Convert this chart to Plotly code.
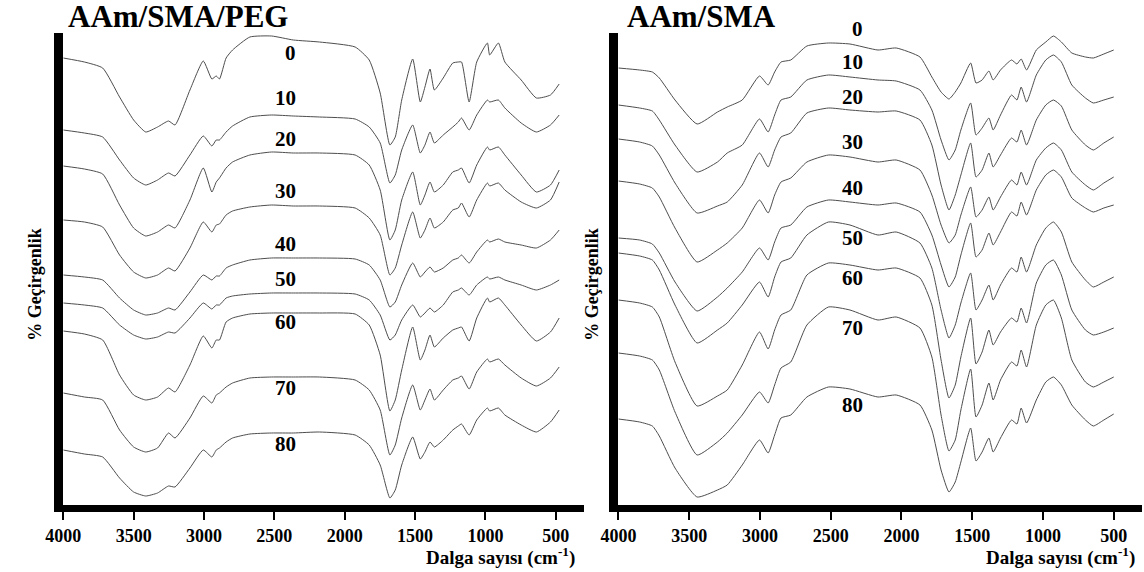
import plotly.graph_objects as go

# ---------------- data (transmittance, arbitrary offset units) ----------------
wn_peg = [4000, 3850, 3720, 3600, 3500, 3414, 3330, 3252, 3206, 3100, 3005, 2944, 2913, 2890,
          2843, 2797, 2674, 2520, 2365, 2180, 1926, 1826, 1748, 1679, 1641, 1595, 1517, 1463,
          1430, 1394, 1363, 1300, 1232, 1193, 1170, 1116, 1062, 986, 970, 908, 862, 746, 638,
          538, 476]
peg_0 = [462, 458, 452, 423, 400, 388, 393, 399, 395, 430, 459, 441, 444, 441, 462, 470, 483, 484,
         480, 478, 473, 460, 427, 375, 383, 420, 461, 418, 433, 451, 430, 442, 457, 458, 458, 418,
         458, 477, 465, 477, 458, 440, 422, 425, 436]
peg_10 = [390, 387, 383, 360, 342, 335, 340, 347, 344, 365, 384, 374, 380, 380, 388, 394, 403, 405,
          404, 403, 401, 393, 377, 337, 345, 370, 395, 367, 375, 388, 377, 385, 393, 398, 402, 390,
          405, 420, 418, 420, 412, 397, 388, 395, 405]
peg_20 = [354, 351, 346, 315, 292, 284, 288, 295, 292, 320, 352, 328, 338, 342, 352, 358, 365, 368,
          367, 367, 365, 355, 330, 280, 290, 320, 348, 315, 325, 338, 328, 335, 348, 350, 352, 337,
          355, 373, 370, 373, 365, 345, 328, 335, 350]
peg_30 = [300, 298, 293, 265, 248, 242, 245, 252, 249, 272, 298, 288, 295, 296, 305, 309, 313, 315,
          314, 314, 312, 302, 285, 245, 252, 275, 308, 282, 290, 302, 292, 298, 310, 312, 317, 303,
          320, 337, 334, 337, 330, 318, 312, 320, 338]
peg_40 = [245, 243, 240, 222, 210, 205, 207, 212, 210, 228, 245, 240, 244, 244, 252, 255, 260, 262,
          262, 262, 261, 255, 240, 213, 218, 235, 257, 243, 248, 253, 248, 252, 260, 262, 265, 257,
          268, 280, 278, 281, 278, 275, 272, 280, 290]
peg_50 = [217, 215, 212, 195, 185, 181, 183, 188, 187, 202, 217, 211, 215, 215, 222, 224, 226, 227,
          227, 227, 226, 220, 205, 180, 185, 200, 215, 203, 207, 212, 208, 215, 228, 230, 232, 225,
          235, 243, 241, 243, 240, 235, 230, 235, 240]
peg_60 = [189, 186, 180, 145, 125, 120, 123, 132, 128, 155, 184, 172, 180, 180, 198, 202, 206, 207,
          207, 207, 206, 195, 165, 109, 120, 150, 193, 160, 170, 185, 173, 182, 190, 192, 193, 179,
          202, 222, 218, 222, 215, 195, 179, 188, 202]
peg_70 = [127, 123, 120, 90, 73, 68, 72, 87, 82, 102, 124, 117, 125, 127, 133, 137, 142, 143,
          143, 143, 140, 130, 110, 65, 75, 102, 135, 110, 120, 131, 120, 130, 140, 142, 144, 131,
          148, 161, 158, 161, 155, 142, 134, 142, 153]
peg_80 = [70, 66, 63, 42, 28, 24, 27, 34, 33, 52, 70, 63, 70, 72, 78, 82, 86, 87,
          87, 88, 85, 75, 55, 22, 30, 55, 83, 61, 68, 78, 73, 80, 90, 94, 96, 85,
          100, 112, 109, 112, 105, 95, 88, 98, 110]

wn_sma = [4000, 3850, 3760, 3711, 3600, 3444, 3300, 3231, 3125, 3003, 2942, 2896, 2851, 2782,
          2668, 2516, 2364, 2166, 2037, 1869, 1785, 1720, 1664, 1620, 1580, 1511, 1473, 1430,
          1382, 1352, 1300, 1222, 1184, 1154, 1116, 1047, 980, 926, 870, 796, 700, 644, 570, 500]
sma_0 = [452, 450, 448, 442, 420, 396, 408, 413, 420, 444, 435, 448, 458, 460, 474, 477, 476, 470,
         472, 463, 443, 428, 421, 428, 437, 457, 437, 440, 449, 440, 450, 460, 456, 461, 450, 470,
         478, 484, 478, 467, 463, 462, 466, 470]
sma_10 = [415, 412, 409, 400, 375, 348, 358, 367, 375, 401, 388, 405, 420, 423, 440, 445, 443, 440,
          439, 430, 410, 380, 360, 370, 390, 417, 385, 392, 402, 390, 405, 425, 420, 433, 418, 445,
          460, 465, 458, 435, 422, 417, 420, 423]
sma_20 = [381, 378, 374, 365, 337, 307, 314, 318, 335, 367, 353, 370, 383, 387, 407, 412, 410, 408,
          409, 400, 375, 335, 310, 325, 345, 377, 343, 350, 367, 353, 365, 382, 378, 390, 375, 400,
          415, 420, 414, 390, 375, 370, 377, 383]
sma_30 = [339, 336, 332, 323, 292, 258, 270, 277, 292, 320, 307, 325, 338, 342, 358, 365, 363, 358,
          360, 350, 325, 295, 277, 285, 305, 333, 303, 310, 323, 310, 323, 340, 335, 348, 335, 360,
          372, 377, 370, 348, 335, 330, 337, 343]
sma_40 = [282, 280, 276, 267, 238, 209, 223, 232, 248, 272, 260, 278, 292, 295, 313, 320, 318, 315,
          317, 308, 285, 255, 233, 243, 265, 297, 263, 270, 287, 275, 288, 308, 304, 318, 305, 330,
          345, 350, 343, 322, 312, 308, 312, 315]
sma_50 = [267, 264, 260, 250, 215, 177, 190, 197, 215, 238, 223, 243, 258, 262, 285, 298, 295, 285,
          288, 277, 252, 210, 182, 195, 217, 247, 210, 220, 235, 220, 235, 252, 248, 263, 248, 275,
          292, 298, 288, 258, 240, 233, 238, 243]
sma_60 = [220, 217, 213, 203, 158, 114, 124, 130, 155, 188, 171, 190, 205, 210, 245, 257, 255, 250,
          252, 242, 215, 160, 122, 135, 163, 202, 156, 168, 190, 175, 188, 202, 198, 212, 197, 237,
          255, 260, 245, 210, 190, 185, 188, 192]
sma_70 = [167, 164, 160, 150, 108, 65, 78, 87, 105, 128, 117, 135, 152, 158, 195, 213, 210, 200,
          203, 192, 163, 105, 69, 80, 110, 151, 103, 115, 137, 120, 140, 158, 154, 170, 153, 195,
          215, 220, 202, 160, 138, 133, 138, 143]
sma_80 = [101, 98, 94, 84, 52, 23, 30, 35, 55, 80, 67, 85, 102, 105, 123, 133, 131, 123,
          125, 115, 90, 50, 28, 38, 58, 92, 59, 68, 82, 68, 82, 100, 96, 112, 97, 120,
          138, 143, 135, 115, 100, 94, 100, 106]

series_labels = ["0", "10", "20", "30", "40", "50", "60", "70", "80"]
peg_series = [peg_0, peg_10, peg_20, peg_30, peg_40, peg_50, peg_60, peg_70, peg_80]
sma_series = [sma_0, sma_10, sma_20, sma_30, sma_40, sma_50, sma_60, sma_70, sma_80]
tick_vals = [4000, 3500, 3000, 2500, 2000, 1500, 1000, 500]
panel_titles = ["AAm/SMA/PEG", "AAm/SMA"]

# ---------------- figure ----------------
W, H = 1144, 572
FONT = "'Liberation Serif', 'Times New Roman', Times, serif"
LINE_COLOR = "#4d4d4d"

fig = go.Figure()
for name, ys in zip(series_labels, peg_series):
    fig.add_trace(go.Scatter(x=wn_peg, y=ys, mode="lines", name=name, xaxis="x", yaxis="y",
                             line=dict(color=LINE_COLOR, width=1, shape="spline", smoothing=0.5),
                             showlegend=False, hoverinfo="skip"))
for name, ys in zip(series_labels, sma_series):
    fig.add_trace(go.Scatter(x=wn_sma, y=ys, mode="lines", name=name, xaxis="x2", yaxis="y2",
                             line=dict(color=LINE_COLOR, width=1, shape="spline", smoothing=0.5),
                             showlegend=False, hoverinfo="skip"))


def px(x):
    return x / W


def py(y):
    return 1 - y / H


y_dom = [py(505), py(33)]
xa = dict(range=[4000, 300], showgrid=False, zeroline=False, showline=True, linecolor="black",
          linewidth=7, ticks="outside", ticklen=8, tickwidth=2, tickcolor="black",
          tickvals=tick_vals, ticktext=["<b>%d</b>" % v for v in tick_vals],
          tickfont=dict(family=FONT, size=18, color="black"))
ya = dict(range=[15, 487], showgrid=False, zeroline=False, showline=True, linecolor="black",
          linewidth=9, showticklabels=False, ticks="")

fig.update_layout(
    width=W, height=H, margin=dict(l=0, r=0, t=0, b=0),
    paper_bgcolor="white", plot_bgcolor="white", showlegend=False,
    font=dict(family=FONT, color="black"),
    xaxis=dict(domain=[px(46), px(575)], anchor="y", **xa),
    yaxis=dict(domain=y_dom, anchor="x", **ya),
    xaxis2=dict(domain=[px(610), px(1142)], anchor="y2", **xa),
    yaxis2=dict(domain=y_dom, anchor="x2", **ya),
)

ann = []
# panel titles
ann.append(dict(x=px(49), y=py(17), xref="paper", yref="paper", text="<b>%s</b>" % panel_titles[0],
                showarrow=False, xanchor="left", yanchor="middle",
                font=dict(family=FONT, size=31, color="black")))
ann.append(dict(x=px(617), y=py(17), xref="paper", yref="paper", text="<b>%s</b>" % panel_titles[1],
                showarrow=False, xanchor="left", yanchor="middle",
                font=dict(family=FONT, size=31, color="black")))
# y titles
for xp in (17, 583):
    ann.append(dict(x=px(xp), y=py(285), xref="paper", yref="paper", text="<b>% Geçirgenlik</b>",
                    showarrow=False, textangle=-90, xanchor="center", yanchor="middle",
                    font=dict(family=FONT, size=18, color="black")))
# x titles
for xr in (568, 1137):
    ann.append(dict(x=px(xr), y=py(556), xref="paper", yref="paper",
                    text="<b>Dalga sayısı (cm<sup>-1</sup>)</b>",
                    showarrow=False, xanchor="right", yanchor="middle",
                    font=dict(family=FONT, size=19, color="black")))
# curve labels
peg_label_pos = [(277, 53), (272, 98), (272, 139), (272, 191), (272, 244), (272, 279), (272, 322), (272, 388), (272, 444)]
sma_label_pos = [(853, 29), (848, 62), (848, 97), (848, 142), (848, 188), (848, 238), (848, 278), (848, 328), (848, 405)]
for lab, (lx, ly) in zip(series_labels, peg_label_pos):
    ann.append(dict(x=px(lx), y=py(ly), xref="paper", yref="paper", text="<b>%s</b>" % lab,
                    showarrow=False, xanchor="center", yanchor="middle",
                    font=dict(family=FONT, size=21, color="black")))
for lab, (lx, ly) in zip(series_labels, sma_label_pos):
    ann.append(dict(x=px(lx), y=py(ly), xref="paper", yref="paper", text="<b>%s</b>" % lab,
                    showarrow=False, xanchor="center", yanchor="middle",
                    font=dict(family=FONT, size=21, color="black")))
fig.update_layout(annotations=ann)

fig.write_html("out.html", config={"displayModeBar": False},
               post_script="document.body.style.margin='0';")
